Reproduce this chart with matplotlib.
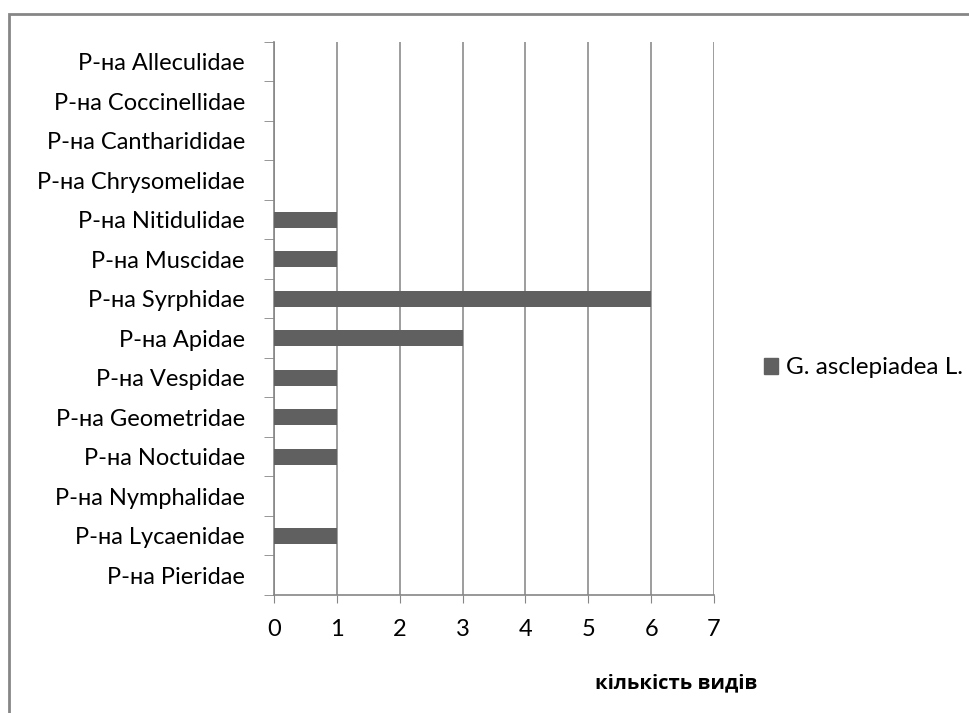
import matplotlib.pyplot as plt
import matplotlib.patches as mpatches

plt.rcParams['font.family'] = ['Lato', 'DejaVu Sans']

# families, bottom to top as on the chart
families = ["Р-на Pieridae", "Р-на Lycaenidae", "Р-на Nymphalidae", "Р-на Noctuidae",
            "Р-на Geometridae", "Р-на Vespidae", "Р-на Apidae", "Р-на Syrphidae",
            "Р-на Muscidae", "Р-на Nitidulidae", "Р-на Chrysomelidae",
            "Р-на Cantharididae", "Р-на Coccinellidae", "Р-на Alleculidae"]
species_count = [0, 1, 0, 1, 1, 1, 3, 6, 1, 1, 0, 0, 0, 0]
series_name = "G. asclepiadea L."
x_ticks = [0, 1, 2, 3, 4, 5, 6, 7]

fig = plt.figure(figsize=(9.7, 7.13), dpi=100)
ax = fig.add_axes([0.2825, 0.1655, 0.4536, 0.7756])

ypos = list(range(len(families)))
ax.barh(ypos, species_count, height=0.4, color="#606060", zorder=3)

ax.set_xlim(0, 7)
ax.set_ylim(-0.5, len(families) - 0.5)
ax.set_xticks(x_ticks)
ax.set_xticklabels([str(t) for t in x_ticks], fontsize=17)
ax.set_yticks(ypos)
ax.set_yticklabels(families, fontsize=17)
ax.tick_params(axis="y", length=0, pad=21)
ax.tick_params(axis="x", length=6, color="#868686", pad=11)
ax.set_yticks([i - 0.5 for i in range(len(families) + 1)], minor=True)
ax.tick_params(axis="y", which="minor", length=7, color="#868686", direction="out")

ax.grid(axis="x", color="#8c8c8c", linewidth=1.2, zorder=0)
for s in ["top", "right"]:
    ax.spines[s].set_visible(False)
for s in ["left", "bottom"]:
    ax.spines[s].set_color("#868686")
    ax.spines[s].set_linewidth(1.2)

fig.text(676 / 970, 1 - 683 / 713, "кількість видів", fontsize=14.5, fontweight="bold",
         ha="center", va="center", family=["Open Sans", "DejaVu Sans"])

handle = mpatches.Patch(color="#606060", label=series_name)
fig.legend(handles=[handle], loc="center left", bbox_to_anchor=(742 / 970, 1 - 368 / 713),
           frameon=False, fontsize=17.5, handlelength=0.6, handleheight=0.6,
           handletextpad=0.3)

frame = mpatches.Rectangle((9.5 / 970, -0.1), 1.2, 1 - 14 / 713 + 0.1,
                           transform=fig.transFigure, fill=False,
                           edgecolor="#868686", linewidth=2)
fig.patches.append(frame)

fig.savefig("out.png", dpi=100)
